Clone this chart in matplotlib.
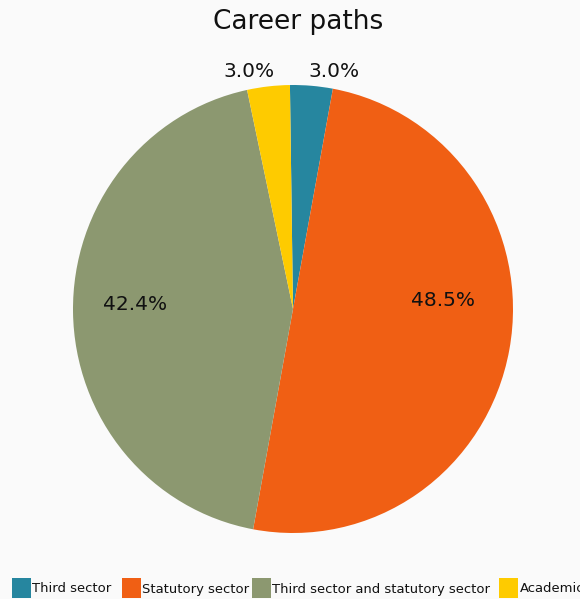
import matplotlib
matplotlib.use("Agg")
import matplotlib.pyplot as plt
import numpy as np
from matplotlib.patches import Rectangle

categories = ["Third sector", "Statutory sector", "Third sector and statutory sector", "Academic"]
counts = [1, 16, 14, 1]
pct_labels = ["3.0%", "48.5%", "42.4%", "3.0%"]
colors = ["#26869f", "#f05f14", "#8c9870", "#fecb00"]
bg = "#fafafa"

# layout (pixels / data units)
W, H = 580, 599
cx, cy, rx, ry = 293, 309, 220, 224
label_pos = [(0.068, 1.06, "left"), (0.68, 0.04, "center"),
             (-0.72, 0.022, "center"), (-0.086, 1.06, "right")]
legend_x = [12, 122, 252, 499]

fig = plt.figure(figsize=(5.8, 5.99), dpi=100, facecolor=bg)
ax = fig.add_axes([(cx - rx) / W, (H - cy - ry) / H, 2 * rx / W, 2 * ry / H])
ax.set_facecolor(bg)
wedges, _ = ax.pie(counts, colors=colors, startangle=90.8, counterclock=False,
                   radius=1.0, wedgeprops=dict(linewidth=0))
ax.set_xlim(-1, 1)
ax.set_ylim(-1, 1)
ax.set_aspect("auto")
ax.axis("off")

for lab, (x, y, ha) in zip(pct_labels, label_pos):
    ax.text(x, y, lab, ha=ha, va="center", fontsize=14.5, color="#111111", clip_on=False)

fig.text(298 / W, 1 - 22 / H, "Career paths", ha="center", va="center", fontsize=19, color="#111111")

for x0, c, name in zip(legend_x, colors, categories):
    fig.add_artist(Rectangle((x0 / W, 1 - 598 / H), 19 / W, 20 / H,
                             transform=fig.transFigure, facecolor=c, edgecolor="none"))
    fig.text((x0 + 20.5) / W, 1 - 589 / H, name, ha="left", va="center",
             fontsize=9.45, color="#111111")

fig.savefig("out.png", dpi=100, facecolor=bg)
